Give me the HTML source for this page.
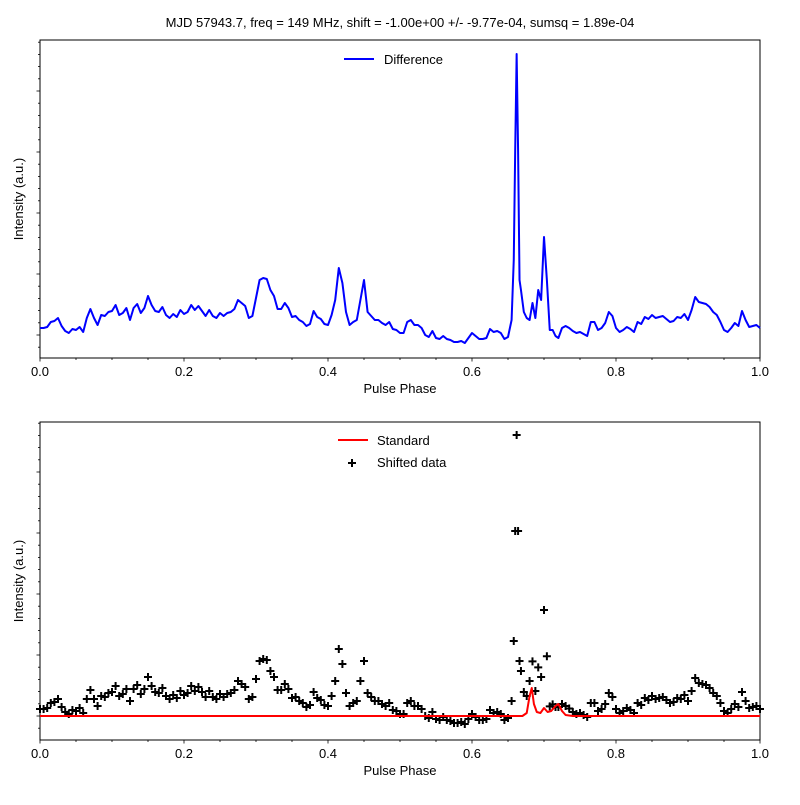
<!DOCTYPE html>
<html><head><meta charset="utf-8"><style>
body{margin:0;background:#fff}
svg text{font-family:"Liberation Sans","DejaVu Sans",sans-serif;font-size:13px;fill:#000}
</style></head><body>
<svg id="chart" width="800" height="800" viewBox="0 0 800 800">
<rect width="800" height="800" fill="#fff"/>
<text x="400" y="27" text-anchor="middle">MJD 57943.7, freq = 149 MHz, shift = -1.00e+00 +/- -9.77e-04, sumsq = 1.89e-04</text>
<g id="top"></g>
<g id="bot"></g>
</svg>
<script>
const phases=[0,0.005,0.01,0.015,0.02,0.025,0.03,0.035,0.04,0.045,0.05,0.055,0.06,0.065,0.07,0.075,0.08,0.085,0.09,0.095,0.1,0.105,0.11,0.115,0.12,0.125,0.13,0.135,0.14,0.145,0.15,0.155,0.16,0.165,0.17,0.175,0.18,0.185,0.19,0.195,0.2,0.205,0.21,0.215,0.22,0.225,0.23,0.235,0.24,0.245,0.25,0.255,0.26,0.265,0.27,0.275,0.28,0.285,0.29,0.295,0.3,0.305,0.31,0.315,0.32,0.325,0.33,0.335,0.34,0.345,0.35,0.355,0.36,0.365,0.37,0.375,0.38,0.385,0.39,0.395,0.4,0.405,0.41,0.415,0.42,0.425,0.43,0.435,0.44,0.445,0.45,0.455,0.46,0.465,0.47,0.475,0.48,0.485,0.49,0.495,0.5,0.505,0.51,0.515,0.52,0.525,0.53,0.535,0.54,0.545,0.55,0.555,0.56,0.565,0.57,0.575,0.58,0.585,0.59,0.595,0.6,0.605,0.61,0.615,0.62,0.625,0.63,0.635,0.64,0.645,0.65,0.655,0.658,0.66,0.662,0.664,0.666,0.668,0.672,0.676,0.68,0.684,0.688,0.692,0.696,0.7,0.704,0.708,0.712,0.716,0.72,0.725,0.73,0.735,0.74,0.745,0.75,0.755,0.76,0.765,0.77,0.775,0.78,0.785,0.79,0.795,0.8,0.805,0.81,0.815,0.82,0.825,0.83,0.835,0.84,0.845,0.85,0.855,0.86,0.865,0.87,0.875,0.88,0.885,0.89,0.895,0.9,0.905,0.91,0.915,0.92,0.925,0.93,0.935,0.94,0.945,0.95,0.955,0.96,0.965,0.97,0.975,0.98,0.985,0.99,0.995,1];
const diffVals=[7,7,8,13,14,17,9,4,2,6,5,8,3,17,26,17,10,20,19,23,24,30,20,22,27,15,27,31,22,27,39,30,24,23,28,20,17,21,18,25,21,23,30,25,29,24,19,25,19,17,22,19,22,23,26,35,32,29,17,19,37,55,57,56,45,39,26,26,32,27,18,19,15,13,9,11,24,18,16,11,10,20,35,67,52,23,10,13,15,35,55,23,19,15,15,12,10,13,6,5,2,2,13,15,10,10,7,0,-2,4,-3,-4,-1,-4,-5,-7,-7,-6,-8,-3,2,-1,-4,-4,-3,6,3,4,2,-4,-2,15,75,185,281,185,55,45,23,17,15,32,17,45,35,98,55,5,5,-1,-3,7,9,7,4,2,3,1,-1,13,13,5,7,12,23,19,7,3,5,8,6,3,13,11,18,16,20,17,18,19,16,13,14,18,17,21,15,25,38,33,32,31,28,23,20,13,5,3,7,12,9,24,15,8,9,10,7];
const stdPhases=[0,0.67,0.676,0.68,0.683,0.686,0.69,0.695,0.7,0.705,0.71,0.716,0.72,0.725,0.73,0.74,1];
const stdVals=[0,0,3,20,28,12,4,3,8,4,5,10,12,5,1,0,0];
const xTicks=[0,0.2,0.4,0.6,0.8,1.0];
const xTickLabels=["0.0","0.2","0.4","0.6","0.8","1.0"];

const NS="http://www.w3.org/2000/svg";
function mk(tag,attrs,parent){const e=document.createElementNS(NS,tag);for(const k in attrs)e.setAttribute(k,attrs[k]);parent.appendChild(e);return e;}
const L=40,R=760;
const xs=p=>L+(R-L)*p;
function stdAt(p){for(let i=0;i<stdPhases.length-1;i++){if(p>=stdPhases[i]&&p<=stdPhases[i+1]){const t=(p-stdPhases[i])/(stdPhases[i+1]-stdPhases[i]);return stdVals[i]+t*(stdVals[i+1]-stdVals[i]);}}return 0;}

function axes(g,top,bot,zeroY){
  const ys=v=>zeroY-v;
  mk('rect',{x:L,y:top,width:R-L,height:bot-top,fill:'none',stroke:'#000','stroke-width':1}, g);
  for(let i=0;i<=20;i++){const p=i*0.05,x=xs(p),maj=i%4===0;
    const t=mk('line',{x1:x,x2:x,y1:bot,y2:bot+(maj?3.5:2),stroke:'#000','stroke-width':0.8},g);
    
    
  }
  xTicks.forEach((p,i)=>{const t=mk('text',{x:xs(p),y:bot+18,'text-anchor':'middle'},g);t.textContent=xTickLabels[i];
    
    });
  const xl=mk('text',{x:400,y:bot+35,'text-anchor':'middle'},g);xl.textContent='Pulse Phase';
  
  
  const yl=mk('text',{x:0,y:0,'text-anchor':'middle',transform:`translate(23,${(top+bot)/2}) rotate(-90)`},g);yl.textContent='Intensity (a.u.)';
  
  
  for(let k=-5;k<=30;k++){const v=k*12.2,y=ys(v);if(y<top||y>bot)continue;const maj=k%5===0;
    const t=mk('line',{x1:L,x2:L-(maj?3.5:2),y1:y,y2:y,stroke:'#000','stroke-width':0.8},g);
    
    
  }
  return ys;
}
// top panel
const gt=document.getElementById('top');
const ysT=axes(gt,40,358,335);
let d='';phases.forEach((p,i)=>{d+=(i?'L':'M')+xs(p).toFixed(2)+','+ysT(diffVals[i]).toFixed(2);});
const dl=mk('path',{d:d,fill:'none',stroke:'#0000ff','stroke-width':2,'stroke-linejoin':'round'},gt);


const lg1=mk('g',{},gt);


mk('line',{x1:344,x2:374,y1:59,y2:59,stroke:'#0000ff','stroke-width':2},lg1);
const lt1=mk('text',{x:384,y:64},lg1);lt1.textContent='Difference';

// bottom panel
const gb=document.getElementById('bot');
const ysB=axes(gb,422,740,716);
const sg=mk('g',{},gb);


phases.forEach((p,i)=>{const x=xs(p),y=ysB(diffVals[i]+stdAt(p));
  const m=mk('path',{d:`M${x-4},${y}H${x+4}M${x},${y-4}V${y+4}`,stroke:'#000','stroke-width':2},sg);
  
  
});
let s='';stdPhases.forEach((p,i)=>{s+=(i?'L':'M')+xs(p).toFixed(2)+','+ysB(stdVals[i]).toFixed(2);});
const sl=mk('path',{d:s,fill:'none',stroke:'#ff0000','stroke-width':2,'stroke-linejoin':'round'},gb);


const lg2=mk('g',{},gb);


mk('line',{x1:338,x2:368,y1:440,y2:440,stroke:'#ff0000','stroke-width':2},lg2);
const lt2=mk('text',{x:377,y:445},lg2);lt2.textContent='Standard';
mk('path',{d:'M348,463H356M352,459V467',stroke:'#000','stroke-width':2},lg2);
const lt3=mk('text',{x:377,y:467},lg2);lt3.textContent='Shifted data';
</script>
</body></html>
